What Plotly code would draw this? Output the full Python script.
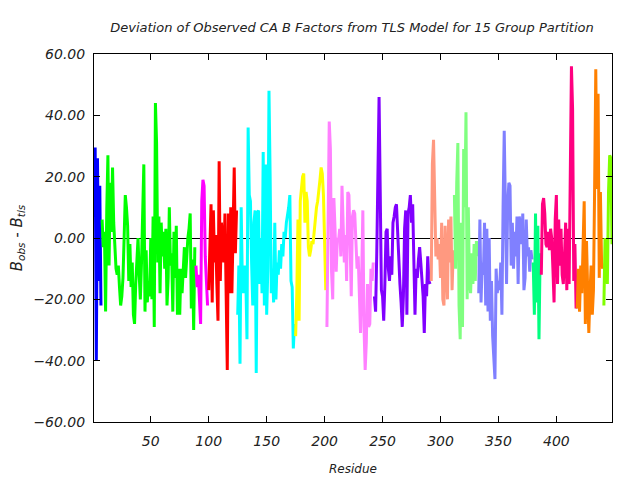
import plotly.graph_objects as go

# first residue of each TLS group, and the B factor deviation per residue
seg_start = [1, 8, 89, 100, 125, 175, 202, 243, 292, 312, 333, 380, 387, 418, 441]

dev_01 = [7, 29.5, -40, 26, -14, 17, -22]
dev_02 = [6, -3, 2, -24, 9, 27, -9, 18, 2, 23, 5, -6, -10, -12, -9, -16, -22, -19, -13, 0,
          14, 10, 4, -14, -2, -16, -8, -25, -28, -15, -5, 0, -12, -20, -8, 7, 24, -24, -4, -21,
          -14, -19, 0, -20, 7, -29, 44, 31, -8, 7, -18, 5, -6, 2, -10, 3, -22, -13, 10, -9,
          -5, -24, 2, -13, 4, -25, -10, -25, -10, -18, -7, -3, -13, -6, 0, 3, 8, -23, -7, -30, -3]
dev_03 = [-9, -16, -12, -20, -28, 12, 19, 17, -6, -14, -22]
dev_04 = [-17, -5, 11, -21, 9, -8, 1, -15, -27, 25, -14, 5, -2, -8, 8, -23, -43, 8, -18, 10,
          -18, 2, 23, -5, 9]
dev_05 = [-25, -9, -41, 10, -14, -18, -9, -13, -33, 36, 14, 12, -8, -22, 5, 9, -44, 8, 9, -15,
          0, -18, 28, -22, 24, -25, -10, 48, 20, -18, -10, -21, 5, -20, -8, -12, -4, -10, -2, -6,
          2, 0, 5, 7, 10, 14, -14, -16, -36, -28]
dev_06 = [-32, -18, 6, -27, 12, 16, 20, 21, 5, 15, 12, -3, -6, -4, -1, -2, 3, 6, 10, 12,
          17, 19, 23, 21, 14, -5, -17]
dev_07 = [-29, 14, 38, 29, -11, -20, 13, 3, -11, 0, -1, 3, -6, 17, 5, -8, 1, -14, 15, 14,
          -2, -19, 7, 9, 8, -4, -10, -6, -22, -31, -12, 9, -29, -43, -34, -15, -29, -28, -10, -14, -8]
dev_08 = [-19, -24, -5, 18, 46, 15, -17, -19, -27, -15, 2, 3, -10, -14, -6, -12, 5, 7, 10, 11,
          2, -10, -15, -21, -29, -19, 3, 9, -25, 8, 10, 14, 5, 11, -6, -25, -10, -13, -7, -3,
          -8, -13, -19, -31, -15, -19, -6, -14, -15]
dev_09 = [-14, 24, 32, 12, -6, 0, -7, -2, -13, 5, -20, -22, 4, -8, -20, 6, -8, 7, -17, -4]
dev_10 = [14, -10, 18, 31, -22, -33, 5, -29, 29, 10, 41, -20, 10, -14, -18, -5, -15, -2, -14, -1, -6]
dev_11 = [-18, 6, -21, -8, -12, 5, -22, 3, -24, 0, -27, -14, -32, -39, -46, -10, -18, -14, -17, -8,
          -25, 10, 35, 10, -15, 11, 18, 17, -9, 5, -10, 2, -6, 7, -15, 7, 4, -2, 8, -17,
          -13, 6, -6, -3, -11, -4, -7]
dev_12 = [-8, -25, 8, -21, 4, -33, -5]
dev_13 = [-12, 11, 13, 8, -2, -3, 2, -4, 3, 0, -10, -21, 6, 14, -15, 6, -9, 3, -12, -15,
          -6, 5, -17, 3, -15, 23, 56, 42, -14, -2, -23]
dev_14 = [-23, -10, -24, -9, -18, -5, 12, -28, -1, -17, -31, -18, -9, -25, -17, 16, 55, 16, 47, -13,
          15, -8, -10]
dev_15 = [-22, 0, -7, -15, 15, 27, 26, -2]

segments = [dev_01, dev_02, dev_03, dev_04, dev_05, dev_06, dev_07, dev_08,
            dev_09, dev_10, dev_11, dev_12, dev_13, dev_14, dev_15]

colors = ['#0000ff', '#00ff00', '#ff00ff', '#ff0000', '#00ffff', '#ffff00', '#ff80ff', '#8000ff',
          '#ff9980', '#80ff80', '#8080ff', '#00ff80', '#ff0080', '#ff8000', '#80ff00']

x_ticks = [50, 100, 150, 200, 250, 300, 350, 400]
y_ticks = [-60, -40, -20, 0, 20, 40, 60]

font_fam = 'DejaVu Sans'

# page body has an 8px margin, so the figure is a bit smaller than the window
W, H = 632, 472

fig = go.Figure()

for start, vals, col in zip(seg_start, segments, colors):
    fig.add_trace(go.Scatter(
        x=list(range(start, start + len(vals))),
        y=vals,
        mode='lines',
        line=dict(color=col, width=3),
        showlegend=False,
    ))

fig.update_layout(
    width=W,
    height=H,
    margin=dict(l=86, r=28, t=46, b=58),
    paper_bgcolor='white',
    plot_bgcolor='white',
    font=dict(family=font_fam, size=14, color='#222222', style='italic'),
    title=dict(
        text='Deviation of Observed CA B Factors from TLS Model for 15 Group Partition',
        x=344 / W,
        xanchor='center',
        y=1 - 19 / H,
        yanchor='middle',
        font=dict(family=font_fam, size=13, style='italic'),
    ),
    xaxis=dict(
        range=[1, 448],
        tickvals=x_ticks,
        ticks='inside',
        ticklen=6,
        tickcolor='black',
        tickfont=dict(size=14),
        ticklabelstandoff=6,
        showline=True,
        linecolor='black',
        linewidth=1,
        mirror='allticks',
        showgrid=False,
        zeroline=False,
        automargin=False,
        title=dict(text='Residue', standoff=16, font=dict(size=12)),
    ),
    yaxis=dict(
        range=[-60, 60],
        tickvals=y_ticks,
        tickformat='.2f',
        ticks='inside',
        ticklen=6,
        tickcolor='black',
        tickfont=dict(size=14),
        ticklabelstandoff=5,
        showline=True,
        linecolor='black',
        linewidth=1,
        mirror='allticks',
        showgrid=False,
        zeroline=True,
        zerolinecolor='black',
        zerolinewidth=1,
        automargin=False,
        title=dict(text='B<sub>obs</sub> - B<sub>tls</sub>', standoff=12, font=dict(size=15)),
    ),
)

fig.write_html('out.html')
